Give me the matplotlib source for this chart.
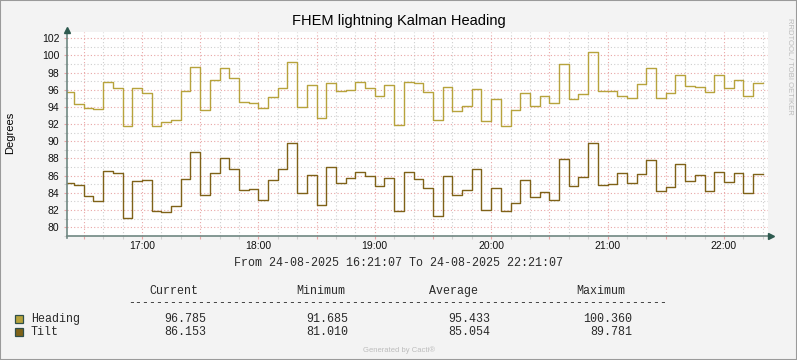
import numpy as np
import matplotlib.pyplot as plt
from matplotlib.patches import Rectangle
from matplotlib.ticker import MultipleLocator, FuncFormatter

# 5 minute RRD steps, first step starts 16:20 (minutes after 16:00)
step_min = 5
first_step = 20
t_start = 21 + 7 / 60   # 16:21:07
t_right = 382.7

heading = [95.71, 94.32, 93.85, 93.73, 96.88, 96.18, 91.79, 96.18, 95.60, 91.79,
           92.22, 92.45, 95.83, 98.62, 93.62, 97.11, 98.51, 97.34, 94.55, 94.43,
           93.85, 95.13, 96.18, 99.21, 93.97, 96.53, 92.69, 96.76, 95.83, 95.95,
           96.88, 96.18, 95.25, 96.53, 91.91, 96.88, 96.76, 95.71, 92.45, 96.30,
           93.50, 94.12, 96.06, 92.34, 94.90, 91.79, 93.62, 95.60, 94.12, 95.25,
           94.43, 98.97, 94.90, 95.48, 100.36, 95.83, 95.83, 95.28, 95.05, 96.64,
           98.51, 95.05, 95.60, 97.69, 96.41, 96.30, 95.71, 97.69, 96.18, 97.11,
           95.28, 96.79]
tilt = [85.12, 84.89, 83.61, 83.06, 86.52, 86.28, 81.01, 85.35, 85.47, 81.90,
        81.78, 82.44, 85.59, 88.73, 83.72, 86.28, 88.03, 86.75, 84.31, 84.42,
        83.14, 85.47, 86.75, 89.78, 83.99, 86.05, 82.56, 86.98, 85.12, 85.70,
        86.40, 85.93, 84.77, 85.70, 81.90, 86.40, 85.59, 84.54, 81.28, 85.93,
        83.72, 84.31, 86.75, 82.01, 84.54, 81.90, 82.79, 85.47, 83.49, 84.07,
        83.14, 87.91, 84.77, 85.82, 89.78, 84.89, 85.00, 86.28, 85.12, 86.17,
        87.79, 84.19, 84.65, 87.33, 85.35, 86.05, 84.19, 86.40, 85.24, 86.28,
        83.96, 86.15]

series_names = ["Heading", "Tilt"]
series_colors = ["#B7A33C", "#7F6218"]
stat_cols = ["Current", "Minimum", "Average", "Maximum"]
heading_stats = ["96.785", "91.685", "95.433", "100.360"]
tilt_stats = ["86.153", "81.010", "85.054", "89.781"]
period_text = "From 24-08-2025 16:21:07 To 24-08-2025 22:21:07"

W, H = 797, 360
bg = "#F3F3F3"
red_grid = "#E9A6A6"
gray_grid = "#CFCFCF"
sans = ["Liberation Sans", "DejaVu Sans"]
mono = ["Liberation Mono", "DejaVu Sans Mono"]
mono_col = "#2A2A2A"

fig = plt.figure(figsize=(W / 100, H / 100), dpi=100, facecolor=bg)

def fx(px):
    return px / W

def fy(py):
    return 1 - py / H

ax = fig.add_axes([fx(66.5), fy(235.7), fx(768) - fx(66.5), fy(32) - fy(235.7)])
ax.set_facecolor("white")

t = first_step + step_min * np.arange(len(heading) + 1)
for vals, col in zip([heading, tilt], series_colors):
    ax.plot(t, list(vals) + [vals[-1]], drawstyle="steps-post", color=col, lw=1.0, zorder=3)

ax.set_xlim(t_start, t_right)
ax.set_ylim(79, 102.73)

ax.xaxis.set_major_locator(MultipleLocator(30))
ax.xaxis.set_minor_locator(MultipleLocator(10))
ax.yaxis.set_major_locator(MultipleLocator(2))
ax.yaxis.set_minor_locator(MultipleLocator(1))
ax.xaxis.set_major_formatter(FuncFormatter(
    lambda v, p: f"{16 + int(round(v)) // 60}:00" if round(v) % 60 == 0 else ""))
ax.yaxis.set_major_formatter(FuncFormatter(lambda v, p: f"{v:.0f}" if v <= 102 else ""))

ax.grid(which="minor", color=gray_grid, linestyle=(0, (1, 2)), lw=0.8, zorder=1)
ax.grid(which="major", color=red_grid, linestyle=(0, (1, 2)), lw=0.8, zorder=2)
ax.tick_params(which="major", length=2, width=0.8, color=red_grid,
               labelsize=7.5, labelcolor="#111111")
ax.tick_params(axis="x", which="major", pad=1.5)
ax.tick_params(axis="y", which="major", pad=3)
ax.tick_params(which="minor", length=2, width=0.8, color=gray_grid)
for lab in ax.get_xticklabels() + ax.get_yticklabels():
    lab.set_family(sans)

for s in ax.spines.values():
    s.set_visible(False)
axis_col = "#6F8782"
ax.plot([0, 1.004], [0, 0], color=axis_col, lw=1.2, transform=ax.transAxes, clip_on=False, zorder=4)
ax.plot([0, 0], [-0.01, 1.0], color=axis_col, lw=1.2, transform=ax.transAxes, clip_on=False, zorder=4)
ax.plot([1.0045], [0], marker=">", ms=4, color="#2E5A4F", transform=ax.transAxes, clip_on=False, zorder=5)
ax.plot([0], [1.01], marker="^", ms=4, color="#2E5A4F", transform=ax.transAxes, clip_on=False, zorder=5)

fig.text(0.5, fy(21), "FHEM lightning Kalman Heading", ha="center", va="center",
         fontsize=10.5, family=sans)
fig.text(fx(10), fy(133), "Degrees", rotation=90, ha="center", va="center",
         fontsize=8, family=sans)
fig.text(fx(789), fy(66), "RRDTOOL / TOBI OETIKER", rotation=270, ha="center", va="center",
         fontsize=5.5, color="#BBBBBB", family=sans)
fig.text(fx(399), fy(350), "Generated by Cacti®", ha="center", va="center",
         fontsize=5.5, color="#BDBDBD", family=sans)

fs = 8.4
fig.text(0.5, fy(263), period_text, ha="center", va="center", fontsize=fs,
         family=mono, color=mono_col)
col_x = [149, 296, 429.3, 576]
for cx, name in zip(col_x, stat_cols):
    fig.text(fx(cx), fy(291), name, ha="left", va="center", fontsize=fs,
             family=mono, color=mono_col)
fig.text(fx(128.3), fy(303), "-" * 77, ha="left", va="center", fontsize=fs,
         family=mono, color=mono_col)

val_right = [206.7, 348.3, 490, 632.3]
rows_y = [319, 332]
for name, col, stats, ry in zip(series_names, series_colors, [heading_stats, tilt_stats], rows_y):
    fig.add_artist(Rectangle((fx(15), fy(ry + 4.3)), fx(8.3), 8.6 / H, transform=fig.transFigure,
                             facecolor=col, edgecolor="#2F4F4A", lw=0.9))
    fig.text(fx(30.7), fy(ry), name, ha="left", va="center", fontsize=fs,
             family=mono, color=mono_col)
    for rx, v in zip(val_right, stats):
        fig.text(fx(rx), fy(ry), v, ha="right", va="center", fontsize=fs,
                 family=mono, color=mono_col)

fig.add_artist(Rectangle((0, 0), 1, 1, transform=fig.transFigure, fill=False,
                         edgecolor="#9A9A9A", lw=1.5))

fig.savefig("out.png", dpi=100, facecolor=bg)
